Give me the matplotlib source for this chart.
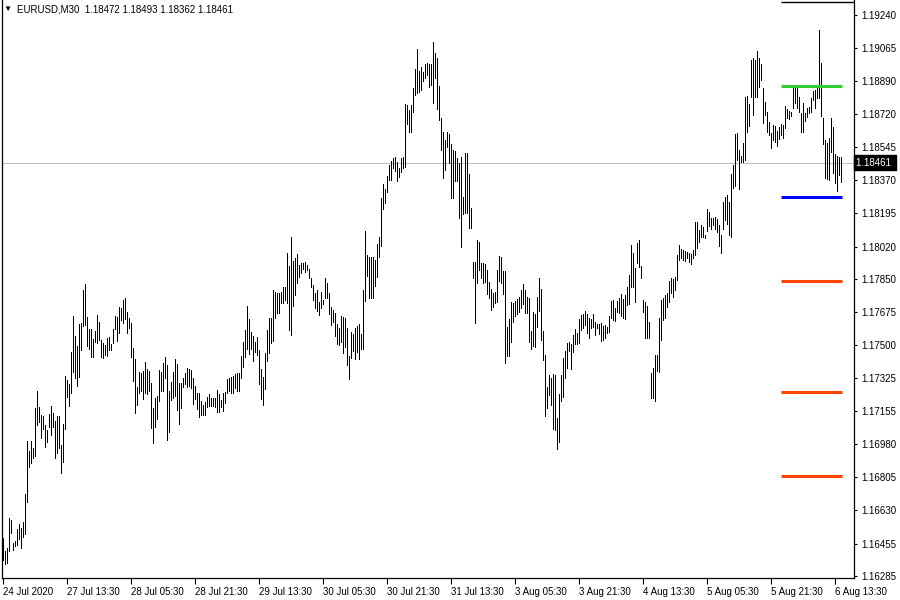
import matplotlib
matplotlib.use("Agg")
from matplotlib import pyplot as plt
from matplotlib import transforms

plt.rcParams['font.family'] = ['Liberation Sans', 'DejaVu Sans']
plt.rcParams['font.size'] = 7

symbol_title = "EURUSD,M30  1.18472 1.18493 1.18362 1.18461"
last_price = 1.18461

# M30 bars, high / low
highs = [
    1.16487, 1.16417, 1.16434, 1.16589, 1.16580, 1.16461, 1.16471, 1.16531, 1.16559, 1.16540,
    1.16568, 1.16717, 1.16996, 1.16943, 1.16996, 1.16961, 1.17172, 1.17260, 1.17177, 1.17133,
    1.17128, 1.17080, 1.17054, 1.17138, 1.17181, 1.17142, 1.17103, 1.17130, 1.17130, 1.16975,
    1.17084, 1.17339, 1.17318, 1.17295, 1.17462, 1.17655, 1.17551, 1.17497, 1.17613, 1.17620,
    1.17792, 1.17823, 1.17648, 1.17586, 1.17586, 1.17534, 1.17576, 1.17660, 1.17625, 1.17528,
    1.17511, 1.17502, 1.17537, 1.17541, 1.17507, 1.17586, 1.17655, 1.17651, 1.17704, 1.17699,
    1.17739, 1.17748, 1.17677, 1.17642, 1.17620, 1.17484, 1.17426, 1.17282, 1.17361, 1.17356,
    1.17367, 1.17414, 1.17375, 1.17367, 1.17303, 1.17168, 1.17224, 1.17233, 1.17370, 1.17361,
    1.17409, 1.17440, 1.17396, 1.17261, 1.17309, 1.17361, 1.17426, 1.17402, 1.17303, 1.17303,
    1.17326, 1.17353, 1.17382, 1.17374, 1.17370, 1.17326, 1.17286, 1.17247, 1.17251, 1.17207,
    1.17186, 1.17203, 1.17230, 1.17242, 1.17224, 1.17221, 1.17224, 1.17265, 1.17242, 1.17212,
    1.17251, 1.17256, 1.17321, 1.17326, 1.17335, 1.17339, 1.17349, 1.17356, 1.17353, 1.17444,
    1.17519, 1.17581, 1.17707, 1.17639, 1.17569, 1.17549, 1.17519, 1.17546, 1.17475, 1.17375,
    1.17335, 1.17458, 1.17581, 1.17646, 1.17646, 1.17792, 1.17779, 1.17774, 1.17778, 1.17783,
    1.17809, 1.17809, 1.17985, 1.17918, 1.18069, 1.17944, 1.17962, 1.17979, 1.17923, 1.17936,
    1.17932, 1.17941, 1.17923, 1.17900, 1.17853, 1.17818, 1.17778, 1.17792, 1.17730, 1.17779,
    1.17739, 1.17857, 1.17827, 1.17774, 1.17700, 1.17686, 1.17668, 1.17614, 1.17593, 1.17655,
    1.17651, 1.17642, 1.17590, 1.17444, 1.17572, 1.17560, 1.17590, 1.17602, 1.17611, 1.17560,
    1.17792, 1.18102, 1.17973, 1.17967, 1.17967, 1.17967, 1.17950, 1.18032, 1.18073, 1.18278,
    1.18350, 1.18322, 1.18392, 1.18450, 1.18471, 1.18489, 1.18491, 1.18464, 1.18436, 1.18489,
    1.18494, 1.18772, 1.18766, 1.18740, 1.18766, 1.18858, 1.18954, 1.19061, 1.18945, 1.18968,
    1.18942, 1.18982, 1.18989, 1.18982, 1.18982, 1.19100, 1.19042, 1.19012, 1.18868, 1.18696,
    1.18626, 1.18582, 1.18626, 1.18613, 1.18561, 1.18529, 1.18526, 1.18485, 1.18459, 1.18491,
    1.18280, 1.18515, 1.18515, 1.18401, 1.18225, 1.17941, 1.17941, 1.18055, 1.18046, 1.17932,
    1.17932, 1.17927, 1.17894, 1.17836, 1.17795, 1.17774, 1.17783, 1.17897, 1.17971, 1.17967,
    1.17892, 1.17890, 1.17594, 1.17637, 1.17727, 1.17725, 1.17734, 1.17744, 1.17756, 1.17792,
    1.17821, 1.17792, 1.17756, 1.17751, 1.17576, 1.17677, 1.17663, 1.17756, 1.17857, 1.17797,
    1.17576, 1.17449, 1.17282, 1.17344, 1.17326, 1.17347, 1.17344, 1.17119, 1.17244, 1.17344,
    1.17432, 1.17470, 1.17511, 1.17519, 1.17505, 1.17555, 1.17586, 1.17563, 1.17637, 1.17660,
    1.17663, 1.17681, 1.17663, 1.17642, 1.17637, 1.17663, 1.17625, 1.17612, 1.17614, 1.17619,
    1.17602, 1.17607, 1.17598, 1.17656, 1.17734, 1.17739, 1.17699, 1.17734, 1.17748, 1.17769,
    1.17744, 1.17765, 1.17809, 1.17871, 1.18029, 1.17985, 1.17906, 1.18037, 1.18055, 1.17920,
    1.17739, 1.17730, 1.17709, 1.17625, 1.17353, 1.17382, 1.17449, 1.17449, 1.17646, 1.17739,
    1.17751, 1.17765, 1.17778, 1.17839, 1.17857, 1.17850, 1.17862, 1.17976, 1.18029, 1.18007,
    1.18002, 1.17996, 1.17993, 1.17988, 1.17979, 1.18002, 1.18147, 1.18151, 1.18107, 1.18133,
    1.18125, 1.18081, 1.18218, 1.18204, 1.18169, 1.18172, 1.18177, 1.18165, 1.18133, 1.18081,
    1.18256, 1.18283, 1.18291, 1.18253, 1.18400, 1.18449, 1.18611, 1.18616, 1.18528, 1.18499,
    1.18564, 1.18806, 1.18813, 1.18769, 1.19003, 1.19011, 1.19003, 1.19050, 1.19015, 1.18980,
    1.18853, 1.18783, 1.18730, 1.18674, 1.18620, 1.18660, 1.18657, 1.18629, 1.18648, 1.18665,
    1.18660, 1.18760, 1.18743, 1.18734, 1.18727, 1.18853, 1.18853, 1.18857, 1.18809, 1.18722,
    1.18778, 1.18722, 1.18752, 1.18757, 1.18804, 1.18839, 1.18845, 1.18862, 1.19161, 1.18985,
    1.18695, 1.18581, 1.18564, 1.18590, 1.18699, 1.18651, 1.18506, 1.18497, 1.18493, 1.18493,
]
lows = [
    1.16369, 1.16346, 1.16355, 1.16417, 1.16510, 1.16422, 1.16443, 1.16447, 1.16478, 1.16431,
    1.16492, 1.16504, 1.16677, 1.16861, 1.16879, 1.16905, 1.16919, 1.17080, 1.17095, 1.17010,
    1.17058, 1.16963, 1.16993, 1.17068, 1.17028, 1.17072, 1.16905, 1.16935, 1.16958, 1.16826,
    1.16887, 1.17058, 1.17226, 1.17181, 1.17247, 1.17361, 1.17326, 1.17288, 1.17335, 1.17476,
    1.17602, 1.17607, 1.17497, 1.17481, 1.17440, 1.17440, 1.17519, 1.17514, 1.17528, 1.17437,
    1.17432, 1.17449, 1.17446, 1.17476, 1.17476, 1.17511, 1.17586, 1.17525, 1.17563, 1.17634,
    1.17616, 1.17639, 1.17563, 1.17590, 1.17440, 1.17314, 1.17145, 1.17186, 1.17251, 1.17261,
    1.17216, 1.17251, 1.17244, 1.17261, 1.17063, 1.16987, 1.17072, 1.17110, 1.17209, 1.17261,
    1.17261, 1.17330, 1.17001, 1.17045, 1.17212, 1.17221, 1.17235, 1.17159, 1.17086, 1.17172,
    1.17282, 1.17295, 1.17279, 1.17286, 1.17274, 1.17191, 1.17216, 1.17163, 1.17124, 1.17133,
    1.17133, 1.17133, 1.17177, 1.17180, 1.17180, 1.17180, 1.17177, 1.17147, 1.17147, 1.17177,
    1.17156, 1.17195, 1.17251, 1.17261, 1.17251, 1.17251, 1.17274, 1.17261, 1.17261, 1.17326,
    1.17388, 1.17440, 1.17479, 1.17454, 1.17481, 1.17419, 1.17467, 1.17449, 1.17295, 1.17217,
    1.17186, 1.17268, 1.17419, 1.17458, 1.17514, 1.17525, 1.17642, 1.17669, 1.17669, 1.17721,
    1.17721, 1.17739, 1.17725, 1.17581, 1.17555, 1.17709, 1.17765, 1.17830, 1.17862, 1.17883,
    1.17900, 1.17888, 1.17897, 1.17853, 1.17809, 1.17739, 1.17699, 1.17683, 1.17660, 1.17699,
    1.17715, 1.17751, 1.17748, 1.17665, 1.17607, 1.17625, 1.17550, 1.17508, 1.17502, 1.17519,
    1.17458, 1.17490, 1.17397, 1.17321, 1.17435, 1.17470, 1.17428, 1.17463, 1.17428, 1.17479,
    1.17479, 1.17735, 1.17865, 1.17748, 1.17748, 1.17751, 1.17814, 1.17862, 1.17967, 1.18025,
    1.18217, 1.18252, 1.18310, 1.18371, 1.18371, 1.18436, 1.18419, 1.18368, 1.18389, 1.18415,
    1.18436, 1.18438, 1.18664, 1.18626, 1.18626, 1.18731, 1.18819, 1.18828, 1.18833, 1.18845,
    1.18893, 1.18910, 1.18924, 1.18863, 1.18872, 1.18779, 1.18907, 1.18743, 1.18687, 1.18529,
    1.18383, 1.18424, 1.18547, 1.18459, 1.18278, 1.18275, 1.18366, 1.18366, 1.18169, 1.18016,
    1.18192, 1.18199, 1.18196, 1.18120, 1.18117, 1.17857, 1.17620, 1.17827, 1.17897, 1.17853,
    1.17827, 1.17836, 1.17769, 1.17748, 1.17686, 1.17704, 1.17721, 1.17730, 1.17839, 1.17827,
    1.17769, 1.17405, 1.17445, 1.17446, 1.17516, 1.17625, 1.17656, 1.17663, 1.17674, 1.17699,
    1.17716, 1.17669, 1.17669, 1.17519, 1.17481, 1.17498, 1.17493, 1.17595, 1.17681, 1.17528,
    1.17423, 1.17130, 1.17168, 1.17238, 1.17186, 1.17059, 1.17054, 1.16952, 1.16993, 1.17207,
    1.17230, 1.17330, 1.17379, 1.17470, 1.17375, 1.17467, 1.17505, 1.17505, 1.17511, 1.17581,
    1.17590, 1.17607, 1.17563, 1.17540, 1.17593, 1.17598, 1.17555, 1.17590, 1.17558, 1.17523,
    1.17528, 1.17537, 1.17567, 1.17569, 1.17646, 1.17634, 1.17628, 1.17674, 1.17669, 1.17656,
    1.17642, 1.17639, 1.17713, 1.17718, 1.17809, 1.17809, 1.17727, 1.17932, 1.17914, 1.17857,
    1.17674, 1.17540, 1.17540, 1.17540, 1.17221, 1.17221, 1.17207, 1.17365, 1.17361, 1.17528,
    1.17634, 1.17642, 1.17704, 1.17730, 1.17774, 1.17756, 1.17792, 1.17844, 1.17950, 1.17958,
    1.17949, 1.17944, 1.17958, 1.17937, 1.17926, 1.17958, 1.17975, 1.18010, 1.18046, 1.18072,
    1.18072, 1.18063, 1.18102, 1.18130, 1.18112, 1.18133, 1.18112, 1.18098, 1.18025, 1.17988,
    1.18112, 1.18160, 1.18139, 1.18081, 1.18072, 1.18330, 1.18341, 1.18476, 1.18321, 1.18467,
    1.18467, 1.18476, 1.18622, 1.18655, 1.18809, 1.18713, 1.18809, 1.18809, 1.18862, 1.18897,
    1.18669, 1.18713, 1.18622, 1.18608, 1.18541, 1.18581, 1.18572, 1.18551, 1.18585, 1.18608,
    1.18593, 1.18643, 1.18695, 1.18692, 1.18709, 1.18752, 1.18774, 1.18748, 1.18727, 1.18625,
    1.18625, 1.18683, 1.18704, 1.18725, 1.18727, 1.18792, 1.18748, 1.18801, 1.18801, 1.18709,
    1.18558, 1.18379, 1.18376, 1.18370, 1.18520, 1.18406, 1.18353, 1.18314, 1.18397, 1.18362,
]

# horizontal levels drawn on the chart
level_prices = [1.19308, 1.18866, 1.18279, 1.17839, 1.17254, 1.16812]
level_colors = ['black', '#32cd32', '#0000ff', '#ff4500', '#ff4500', '#ff4500']
level_start = 389

price_ticks = [1.19240, 1.19065, 1.18890, 1.18720, 1.18545, 1.18370, 1.18195, 1.18020, 1.17850,
               1.17675, 1.17500, 1.17325, 1.17155, 1.16980, 1.16805, 1.16630, 1.16455, 1.16285]
time_tick_idx = list(range(0, 420, 32))
time_labels = ['24 Jul 2020', '27 Jul 13:30', '28 Jul 05:30', '28 Jul 21:30', '29 Jul 13:30',
               '30 Jul 05:30', '30 Jul 21:30', '31 Jul 13:30', '3 Aug 05:30', '3 Aug 21:30',
               '4 Aug 13:30', '5 Aug 05:30', '5 Aug 21:30', '6 Aug 13:30']

fig = plt.figure(figsize=(9, 6), dpi=100)
ax = fig.add_axes([2 / 900, 22 / 600, 852 / 900, 578 / 600])
ax.set_xlim(-0.5, 425.5)
ax.set_ylim(1.16274, 1.19319)

ax.axhline(last_price, color='#c0c0c0', lw=0.75, zorder=1)
ax.vlines(range(len(highs)), lows, highs, color='black', lw=0.6, antialiased=False, zorder=2)

for p, c in zip(level_prices, level_colors):
    if c == 'black':
        ax.hlines(p, level_start, 425.5, color=c, lw=1.0, zorder=3)
    else:
        ax.hlines(p, level_start, 419.5, color=c, lw=2.2, zorder=3)

ax.spines['top'].set_visible(False)
for side in ['left', 'bottom', 'right']:
    ax.spines[side].set_linewidth(0.9)

ax.yaxis.tick_right()
ax.set_yticks(price_ticks)
ax.set_yticklabels([f"{v:.5f}" for v in price_ticks])
ax.tick_params(axis='y', direction='out', length=2.5, width=0.8, pad=3, labelsize=7)

ax.set_xticks(time_tick_idx)
ax.set_xticklabels(time_labels)
ax.tick_params(axis='x', direction='out', length=4, width=0.8, pad=2.5, labelsize=7)
plt.setp(ax.get_xticklabels(), ha='left')

# current price box on the price scale
trans = transforms.blended_transform_factory(ax.transAxes, ax.transData)
ax.text(1.0025, last_price, "1.18461 ", transform=trans, color='white', va='center', ha='left',
        fontsize=7, clip_on=False,
        bbox=dict(boxstyle='square,pad=0.25', fc='black', ec='black'))

fig.text(3 / 900, 1 - 9 / 600, "\u25bc", fontsize=6, va='center', ha='left')
fig.text(17 / 900, 1 - 9 / 600, symbol_title, fontsize=7, va='center', ha='left')

fig.savefig('out.png', dpi=100)
